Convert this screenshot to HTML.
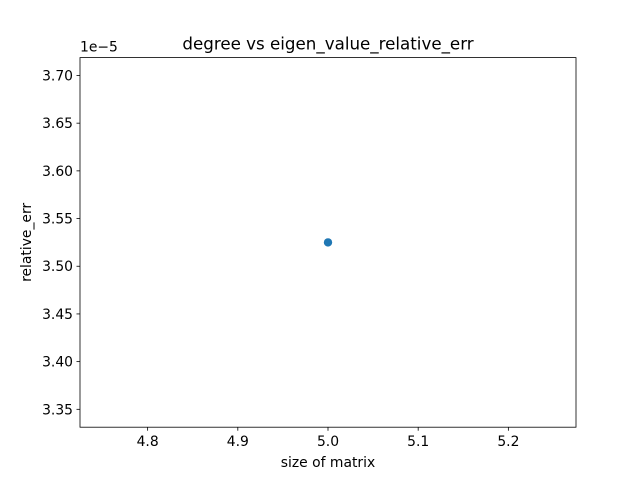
<!DOCTYPE html>
<html><head><meta charset="utf-8"><style>
html,body{margin:0;padding:0;background:#fff;overflow:hidden;width:640px;height:480px;}
svg{display:block;}
svg text{font-family:"DejaVu Sans","Liberation Sans",sans-serif;fill:#000;}
</style></head><body>
<svg id="chart" width="640" height="480" xmlns="http://www.w3.org/2000/svg">
<rect width="640" height="480" fill="#fff"/>
<g id="plot"></g>
</svg>
<script>
const xValues=[5.0];
const yValues=[3.525e-5];
const xTicks=[4.8,4.9,5.0,5.1,5.2];
const yTicks=[3.35,3.40,3.45,3.50,3.55,3.60,3.65,3.70];
const xMin=4.725,xMax=5.275,yMin=3.33125e-5,yMax=3.71875e-5;
const L=80,R=576,T=57.6,B=427.2;
const sx=v=>L+(v-xMin)/(xMax-xMin)*(R-L);
const sy=v=>B-(v-yMin)/(yMax-yMin)*(B-T);
const g=document.getElementById('plot');
const NS='http://www.w3.org/2000/svg';
function mk(t,a,txt){const e=document.createElementNS(NS,t);for(const k in a)e.setAttribute(k,a[k]);if(txt!==undefined)e.textContent=txt;g.appendChild(e);return e;}
xTicks.forEach(v=>{const x=sx(v);
const t=mk('line',{x1:x,x2:x,y1:B,y2:B+3.5,stroke:'#000','stroke-width':0.8});


const l=mk('text',{x:x,y:B+19,'text-anchor':'middle','font-size':13.9},v.toFixed(1));

});
yTicks.forEach(v=>{const y=sy(v*1e-5);
const t=mk('line',{x1:L-3.5,x2:L,y1:y,y2:y,stroke:'#000','stroke-width':0.8});


const l=mk('text',{x:L-7,y:y+5,'text-anchor':'end','font-size':13.9},v.toFixed(2));

});
xValues.forEach((v,i)=>{const c=mk('circle',{cx:sx(v),cy:sy(yValues[i]),r:4.2,fill:'#1f77b4'});

});
const f=mk('rect',{x:L,y:T,width:R-L,height:B-T,fill:'none',stroke:'#000','stroke-width':0.8});


const o=mk('text',{x:L,y:T-6,'font-size':13.9},'1e−5');


const ti=mk('text',{x:(L+R)/2,y:T-8,'text-anchor':'middle','font-size':16.7},'degree vs eigen_value_relative_err');


const xl=mk('text',{x:(L+R)/2,y:467,'text-anchor':'middle','font-size':13.9},'size of matrix');


const yl=mk('text',{x:0,y:0,'text-anchor':'middle','font-size':13.9,transform:'translate(31,'+((T+B)/2)+') rotate(-90)'},'relative_err');


</script>
</body></html>
